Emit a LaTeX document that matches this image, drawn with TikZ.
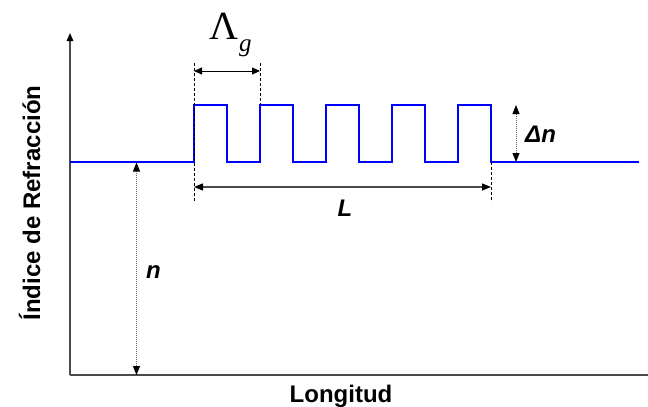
\documentclass[tikz,border=0pt]{standalone}
\usepackage{fontspec}
\setmainfont{Liberation Sans}
\newfontfamily\serifface{Liberation Serif}
\usetikzlibrary{arrows.meta}
\definecolor{axisgray}{HTML}{4A4A4A}
\definecolor{dotgray}{HTML}{666666}
\tikzset{
  axisline/.style={draw=axisgray, line width=1.4pt},
  profile/.style={draw=blue, line width=1.2pt},
  guide/.style={draw=black, line width=0.9pt, dash pattern=on 3pt off 2pt},
  dimline/.style={draw=black, line width=1pt, {Triangle[length=8pt,width=7pt,black]}-{Triangle[length=8pt,width=7pt,black]}},
  dimlinegray/.style={draw=axisgray, line width=1.3pt, {Triangle[length=9pt,width=7pt,black]}-{Triangle[length=9pt,width=7pt,black]}},
  dotarrow/.style={draw=dotgray, line width=0.9pt, dash pattern=on 1pt off 1pt, {Triangle[length=9pt,width=7pt,black]}-{Triangle[length=9pt,width=7pt,black]}},
  lbl/.style={inner sep=0pt, font=\fontsize{24}{28}\selectfont\bfseries},
  ilbl/.style={inner sep=0pt, font=\fontsize{24}{28}\selectfont\bfseries\itshape},
}
\begin{document}
\begin{tikzpicture}[x=1pt,y=-1pt]
\useasboundingbox (0,0) rectangle (648,407);
% axes
\coordinate (O) at (70,375);
\coordinate (Ytop) at (70,33);
\coordinate (Xend) at (648,375);
\draw[axisline, -{Triangle[length=8pt,width=6.5pt,black]}] (O) -- (Ytop);
\draw[axisline] (O) -- (Xend);
% profile
\draw[profile] (70,162) -- (194,162) -- (194,105) -- (227,105) -- (227,162)
  -- (260,162) -- (260,105) -- (293,105) -- (293,162)
  -- (326,162) -- (326,105) -- (359,105) -- (359,162)
  -- (392,162) -- (392,105) -- (425,105) -- (425,162)
  -- (458,162) -- (458,105) -- (491,105) -- (491,162) -- (639,162);
% guides
\coordinate (g1t) at (194,63); \coordinate (g1b) at (194,202);
\coordinate (g2t) at (260,63); \coordinate (g2b) at (260,105);
\coordinate (g3t) at (491,162); \coordinate (g3b) at (491,202);
\draw[guide] (g1t) -- (g1b);
\draw[guide] (g2t) -- (g2b);
\draw[guide] (g3t) -- (g3b);
% period arrow
\coordinate (La) at (194,71); \coordinate (Lb) at (260,71);
\draw[dimline] (La) -- (Lb);
% length arrow
\coordinate (LLa) at (194,187); \coordinate (LLb) at (491,187);
\draw[dimlinegray] (LLa) -- (LLb);
% delta n arrow
\coordinate (Da) at (516,105); \coordinate (Db) at (516,162);
\draw[dotarrow] (Da) -- (Db);
% n arrow
\coordinate (Na) at (136.5,162.5); \coordinate (Nb) at (136.5,375);
\draw[dotarrow] (Na) -- (Nb);
% labels
\node[inner sep=0pt, anchor=base west, font=\fontsize{40}{42}\selectfont\serifface] (lam) at (209,39) {Λ};
\node[inner sep=0pt, anchor=base west, font=\fontsize{25}{27}\selectfont\serifface\itshape] (gsub) at (239,51) {g};
\node[ilbl, anchor=base] (Llab) at (345,216) {L};
\node[ilbl, anchor=base west] (nlab) at (146,278) {n};
\node[ilbl, anchor=base west] (dnlab) at (525,142) {Δn};
\node[lbl, anchor=base] (xlab) at (341,402) {Longitud};
\node[lbl, anchor=base, rotate=90] (ylab) at (40,203) {Índice de Refracción};
\end{tikzpicture}
\end{document}
